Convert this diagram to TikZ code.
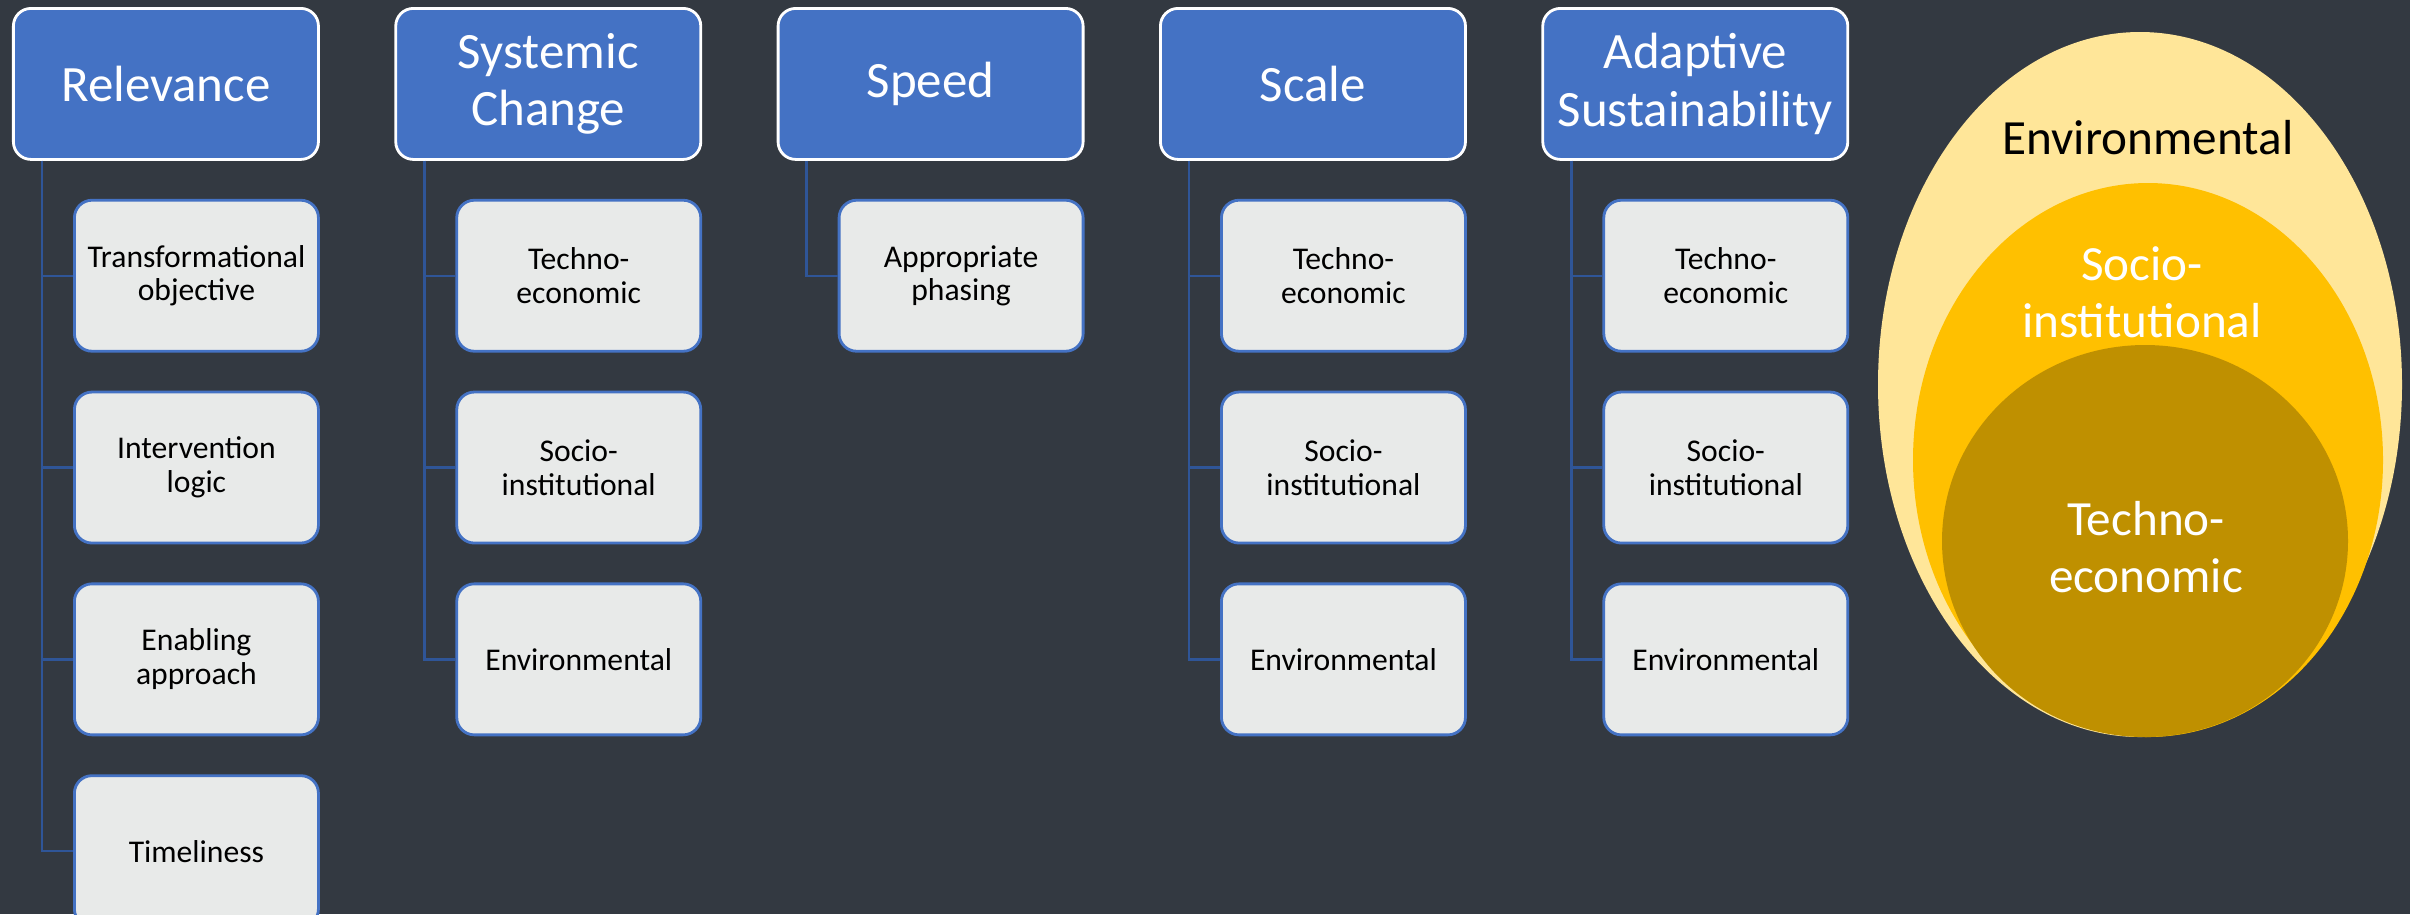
\documentclass[tikz,border=0pt]{standalone}
\usepackage{fontspec}
\setmainfont{Carlito}
\usepackage{tikz}
\usetikzlibrary{positioning}
\usepackage{xcolor}

\definecolor{slatebg}{RGB}{51,57,65}
\definecolor{headblue}{RGB}{68,114,196}
\definecolor{leafgray}{RGB}{232,234,233}
\definecolor{linkblue}{RGB}{47,85,151}
\definecolor{envyellow}{RGB}{255,230,153}
\definecolor{sociogold}{RGB}{255,192,0}
\definecolor{technobrown}{RGB}{191,144,0}

\begin{document}
\begin{tikzpicture}[node distance=0.38cm and 0.745cm]

    % Styles for the criteria columns
    \tikzset{
        header/.style={draw=white, fill=headblue, rounded corners=5pt, line width=0.8pt, minimum width=3.04cm, minimum height=1.51cm, text width=2.98cm, inner sep=1pt, align=center, text=white, font=\fontsize{14.5}{16.4}\selectfont},
        leaf/.style={draw=headblue, fill=leafgray, rounded corners=5pt, line width=0.8pt, minimum width=2.43cm, minimum height=1.51cm, text width=2.37cm, inner sep=1pt, align=center, text=black, font=\fontsize{9}{9.6}\selectfont},
        link/.style={draw=linkblue, line width=0.7pt},
        ringtext/.style={align=center, font=\fontsize{14}{16.3}\selectfont}
    }

    % Background and page size
    \fill[slatebg] (0,0) rectangle (24.1,-9.14);
    \useasboundingbox (0,0) rectangle (24.1,-9.14);

    % Column headers
    \node[header, anchor=north west] (rel) at (0.12,-0.07) {Relevance};
    \node[header, right=of rel] (sys) {Systemic\\Change};
    \node[header, right=of sys] (spd) {Speed};
    \node[header, right=of spd] (scl) {Scale};
    \node[header, right=of scl] (ada) {Adaptive\\Sustainability};

    % Relevance column
    \node[leaf, below left=0.38cm and 0cm of rel.south east] (rel1) {Transformational\\objective};
    \node[leaf, below=of rel1] (rel2) {Intervention\\logic};
    \node[leaf, below=of rel2] (rel3) {Enabling\\approach};
    \node[leaf, below=of rel3] (rel4) {Timeliness};

    % Systemic change column
    \node[leaf, below left=0.38cm and 0cm of sys.south east] (sys1) {Techno-\\economic};
    \node[leaf, below=of sys1] (sys2) {Socio-\\institutional};
    \node[leaf, below=of sys2] (sys3) {Environmental};

    % Speed column
    \node[leaf, below left=0.38cm and 0cm of spd.south east] (spd1) {Appropriate\\phasing};

    % Scale column
    \node[leaf, below left=0.38cm and 0cm of scl.south east] (scl1) {Techno-\\economic};
    \node[leaf, below=of scl1] (scl2) {Socio-\\institutional};
    \node[leaf, below=of scl2] (scl3) {Environmental};

    % Adaptive sustainability column
    \node[leaf, below left=0.38cm and 0cm of ada.south east] (ada1) {Techno-\\economic};
    \node[leaf, below=of ada1] (ada2) {Socio-\\institutional};
    \node[leaf, below=of ada2] (ada3) {Environmental};

    % Tree connectors
    \draw[link] ([xshift=0.3cm]rel.south west) |- (rel1.west);
    \draw[link] ([xshift=0.3cm]rel.south west) |- (rel2.west);
    \draw[link] ([xshift=0.3cm]rel.south west) |- (rel3.west);
    \draw[link] ([xshift=0.3cm]rel.south west) |- (rel4.west);
    \draw[link] ([xshift=0.3cm]sys.south west) |- (sys1.west);
    \draw[link] ([xshift=0.3cm]sys.south west) |- (sys2.west);
    \draw[link] ([xshift=0.3cm]sys.south west) |- (sys3.west);
    \draw[link] ([xshift=0.3cm]spd.south west) |- (spd1.west);
    \draw[link] ([xshift=0.3cm]scl.south west) |- (scl1.west);
    \draw[link] ([xshift=0.3cm]scl.south west) |- (scl2.west);
    \draw[link] ([xshift=0.3cm]scl.south west) |- (scl3.west);
    \draw[link] ([xshift=0.3cm]ada.south west) |- (ada1.west);
    \draw[link] ([xshift=0.3cm]ada.south west) |- (ada2.west);
    \draw[link] ([xshift=0.3cm]ada.south west) |- (ada3.west);

    % Nested dimensions
    \fill[envyellow] (21.40,-3.845) ellipse (2.62cm and 3.525cm);
    \fill[sociogold] (21.48,-4.60) ellipse (2.35cm and 2.77cm);
    \fill[technobrown] (21.45,-5.41) ellipse (2.03cm and 1.96cm);

    \node[ringtext, text=black, anchor=base] (envlabel) at (21.48,-1.54) {Environmental};
    \node[ringtext, text=white] (sociolabel) at (21.42,-2.92) {Socio-\\institutional};
    \node[ringtext, text=white] (technolabel) at (21.46,-5.47) {Techno-\\economic};

\end{tikzpicture}
\end{document}
